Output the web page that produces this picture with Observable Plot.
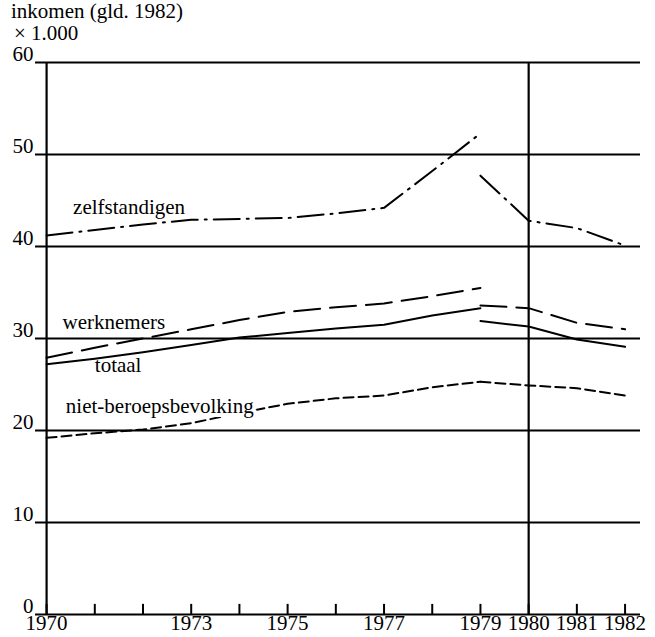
<!DOCTYPE html>
<html><head><meta charset="utf-8">
<script src="https://cdn.jsdelivr.net/npm/d3@7"></script>
<script src="https://cdn.jsdelivr.net/npm/@observablehq/plot@0.6"></script>
<style>
body{margin:0;background:#fff;position:relative;}
#title{position:absolute;top:0;left:0;z-index:2;font-family:"Liberation Serif",serif;font-size:21px;line-height:22px;color:#000;padding-left:11px;padding-top:0px;}
#chart{margin-top:36px;}
</style></head><body>
<div id="title"><div>inkomen (gld. 1982)</div><div style="padding-left:3px">× 1.000</div></div>
<div id="chart"></div>
<script>
// years of the two series segments (statistical break at 1979)
const years1 = [1970,1971,1972,1973,1974,1975,1976,1977,1978,1979];
const years2 = [1979,1980,1981,1982];

// income (gld. 1982) x 1.000
const zelfstandigen1 = [41.2,41.8,42.4,42.9,43.0,43.1,43.6,44.2,48.2,52.3];
const zelfstandigen2 = [47.7,42.8,42.0,40.1];
const werknemers1 = [27.9,29.0,30.0,31.0,32.0,32.9,33.4,33.8,34.6,35.5];
const werknemers2 = [33.6,33.3,31.7,31.0];
const totaal1 = [27.2,27.8,28.5,29.3,30.1,30.6,31.1,31.5,32.5,33.3];
const totaal2 = [31.9,31.3,29.9,29.1];
const nietBeroeps1 = [19.2,19.7,20.1,20.8,21.9,22.9,23.5,23.8,24.7,25.3];
const nietBeroeps2 = [25.3,24.9,24.6,23.8];

// axes
const yTicks = [0,10,20,30,40,50,60];
const xLabelYears = [1970,1973,1975,1977,1979,1980,1981,1982];
const xMinorYears = [1970,1971,1972,1973,1974,1975,1976,1977,1978,1979,1980,1981,1982];
const frameYears = [1970,1980];

// series labels
const labelText = ["zelfstandigen","werknemers","totaal"];
const labelYear = [1970.55,1970.33,1971.0];
const labelValue = [43.5,31.0,26.4];
const labelNbText = ["niet-beroepsbevolking"];
const labelNbYear = [1970.4];
const labelNbValue = [21.9];

function rows(name, y1, v1, y2, v2) {
  return [
    ...y1.map((y,i)=>({series:name, seg:name+"1", year:y, value:v1[i]})),
    ...y2.map((y,i)=>({series:name, seg:name+"2", year:y, value:v2[i]}))
  ];
}
const zRows = rows("zelfstandigen", years1, zelfstandigen1, years2, zelfstandigen2);
const wRows = rows("werknemers", years1, werknemers1, years2, werknemers2);
const tRows = rows("totaal", years1, totaal1, years2, totaal2);
const nRows = rows("niet-beroepsbevolking", years1, nietBeroeps1, years2, nietBeroeps2);

const TICK_LEN = 1.1;
const FS = 21;
const lineOpts = {x:"year", y:"value", z:"seg", stroke:"black", strokeWidth:2, curve:"linear"};

const chart = Plot.plot({
  width: 655,
  height: 601,
  marginLeft: 35,
  marginRight: 15,
  marginTop: 26,
  marginBottom: 23,
  style: {fontFamily: "Liberation Serif", fontSize: FS + "px", color: "black", background: "transparent"},
  x: {domain: [1969.77, 1982.32], label: null},
  y: {domain: [0, 60], label: null},
  marks: [
    Plot.ruleY(yTicks, {stroke:"black", strokeWidth:2}),
    Plot.ruleX(frameYears, {y1:0, y2:60, stroke:"black", strokeWidth:2.2}),
    Plot.ruleX(xMinorYears, {x:d=>d, y1:0, y2:TICK_LEN, stroke:"black", strokeWidth:2}),
    Plot.axisY(yTicks, {anchor:"left", tickSize:0, tickPadding:2, dy:-8, fontSize:FS, tickFormat:d=>String(d), label:null}),
    Plot.axisX(xLabelYears, {anchor:"bottom", tickSize:0, tickPadding:1, fontSize:FS, tickFormat:d=>String(d), label:null}),
    Plot.line(zRows, {...lineOpts, strokeDasharray:"26,7,2,7"}),
    Plot.line(wRows, {...lineOpts, strokeDasharray:"26,10"}),
    Plot.line(tRows, {...lineOpts}),
    Plot.line(nRows, {...lineOpts, strokeDasharray:"10,5"}),
    Plot.text(labelText, {x:(d,i)=>labelYear[i], y:(d,i)=>labelValue[i], text:d=>d, textAnchor:"start", lineAnchor:"bottom", fontSize:FS, fill:"black"}),
    Plot.text(labelNbText, {x:(d,i)=>labelNbYear[i], y:(d,i)=>labelNbValue[i], text:d=>d, textAnchor:"start", lineAnchor:"bottom", fontSize:FS, fill:"black", stroke:"white", strokeWidth:8})
  ]
});
document.getElementById("chart").appendChild(chart);
</script>
</body></html>
